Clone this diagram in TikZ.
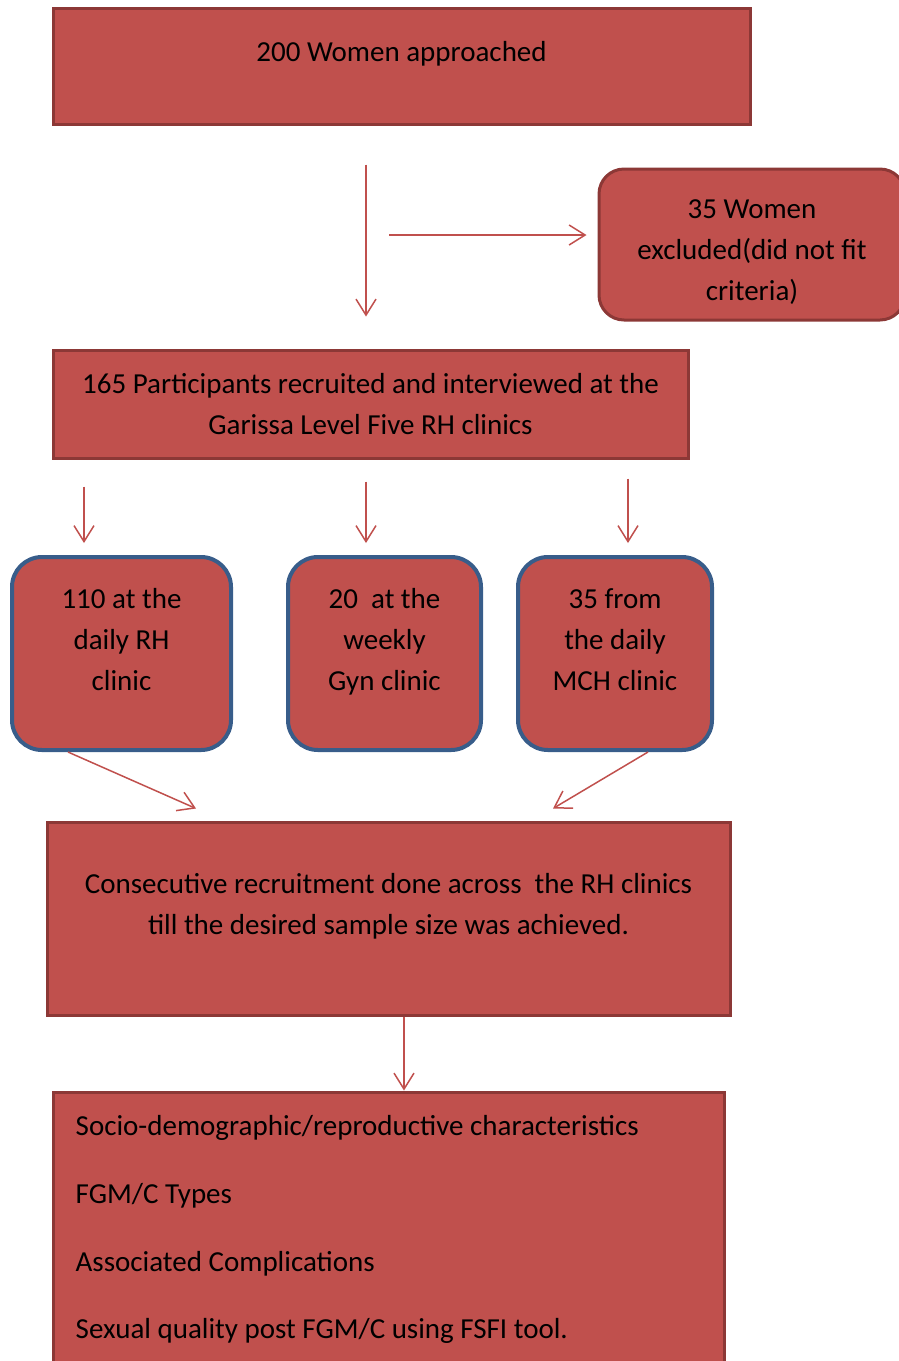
\documentclass[tikz,border=0pt]{standalone}
\usepackage{fontspec}
\setmainfont{Carlito}
\usetikzlibrary{arrows.meta, positioning}
\definecolor{boxred}{RGB}{192,80,77}
\definecolor{edgered}{RGB}{140,56,54}
\definecolor{edgeblue}{RGB}{56,93,138}
\definecolor{arrowred}{RGB}{192,80,77}

\begin{document}
\begin{tikzpicture}[
        x=1pt, y=-1pt,
        box/.style={rectangle, draw=edgered, fill=boxred, line width=3pt, inner sep=0pt},
        roundbox/.style={box, draw=edgeblue, line width=4pt, rounded corners=30pt, minimum height=193},
        exclbox/.style={box, rounded corners=25pt},
        txt/.style={inner sep=0pt, align=center, font=\fontsize{29}{41}\selectfont},
        arr/.style={-{Straight Barb[length=16pt, width=20pt]}, line width=1.5pt, arrowred}
    ]
        \path[use as bounding box, clip] (0,0) rectangle (899,1361);

        \node[box, minimum width=697, minimum height=116, label={[txt, yshift=12.5]center:200 Women approached}] (approached) at (401.5,66) {};
        \node[exclbox, minimum width=306, minimum height=151, label={[txt, yshift=-8]center:35 Women\\excluded(did not fit\\criteria)}] (excluded) at (752,244.5) {};
        \node[box, minimum width=635, minimum height=108, label={[txt]center:165 Participants recruited and interviewed at the\\Garissa Level Five RH clinics}] (recruited) at (370.5,404) {};
        \node[roundbox, minimum width=219, label={[txt, yshift=13.5]center:110 at the\\daily RH\\clinic}] (rhdaily) at (121.5,653.5) {};
        \node[roundbox, minimum width=193, label={[txt, yshift=11.5]center:20\ \ at the\\weekly\\Gyn clinic}] (gynweekly) at (384.5,653.5) {};
        \node[roundbox, minimum width=194, label={[txt, yshift=13.5]center:35 from\\the daily\\MCH clinic}] (mchdaily) at (615,653.5) {};
        \node[box, minimum width=683, minimum height=193, label={[txt, yshift=12]center:Consecutive recruitment done across\ \ the RH clinics\\till the desired sample size was achieved.}] (consecutive) at (388.5,918.5) {};
        \node[box, minimum width=671, minimum height=290, label={[txt, align=left, anchor=north west, xshift=24, yshift=-25]north west:Socio-demographic/reproductive characteristics\\[26.7pt]FGM/C Types\\[26.7pt]Associated Complications\\[26.7pt]Sexual quality post FGM/C using FSFI tool.}] (outcomes) at (388.5,1237) {};

        \coordinate (split) at (389,235);

        \draw[arr] ([xshift=-35.5, yshift=-39]approached.south) -- ([xshift=-4.5, yshift=32]recruited.north);
        \draw[arr] (split) -- ([xshift=-11, yshift=9.5]excluded.west);
        \draw[arr] ([xshift=-286.5, yshift=-27]recruited.south) -- ([xshift=-37.5, yshift=12]rhdaily.north);
        \draw[arr] ([xshift=-4.5, yshift=-22]recruited.south) -- ([xshift=-18.5, yshift=12]gynweekly.north);
        \draw[arr] ([xshift=257.5, yshift=-19]recruited.south) -- ([xshift=13, yshift=12]mchdaily.north);
        \draw[arr] ([xshift=-53.5]rhdaily.south) -- ([xshift=-192.5, yshift=12]consecutive.north);
        \draw[arr] ([xshift=33]mchdaily.south) -- ([xshift=164.5, yshift=12]consecutive.north);
        \draw[arr] ([xshift=15.5]consecutive.south) -- ([xshift=15.5]outcomes.north);
    \end{tikzpicture}
\end{document}
